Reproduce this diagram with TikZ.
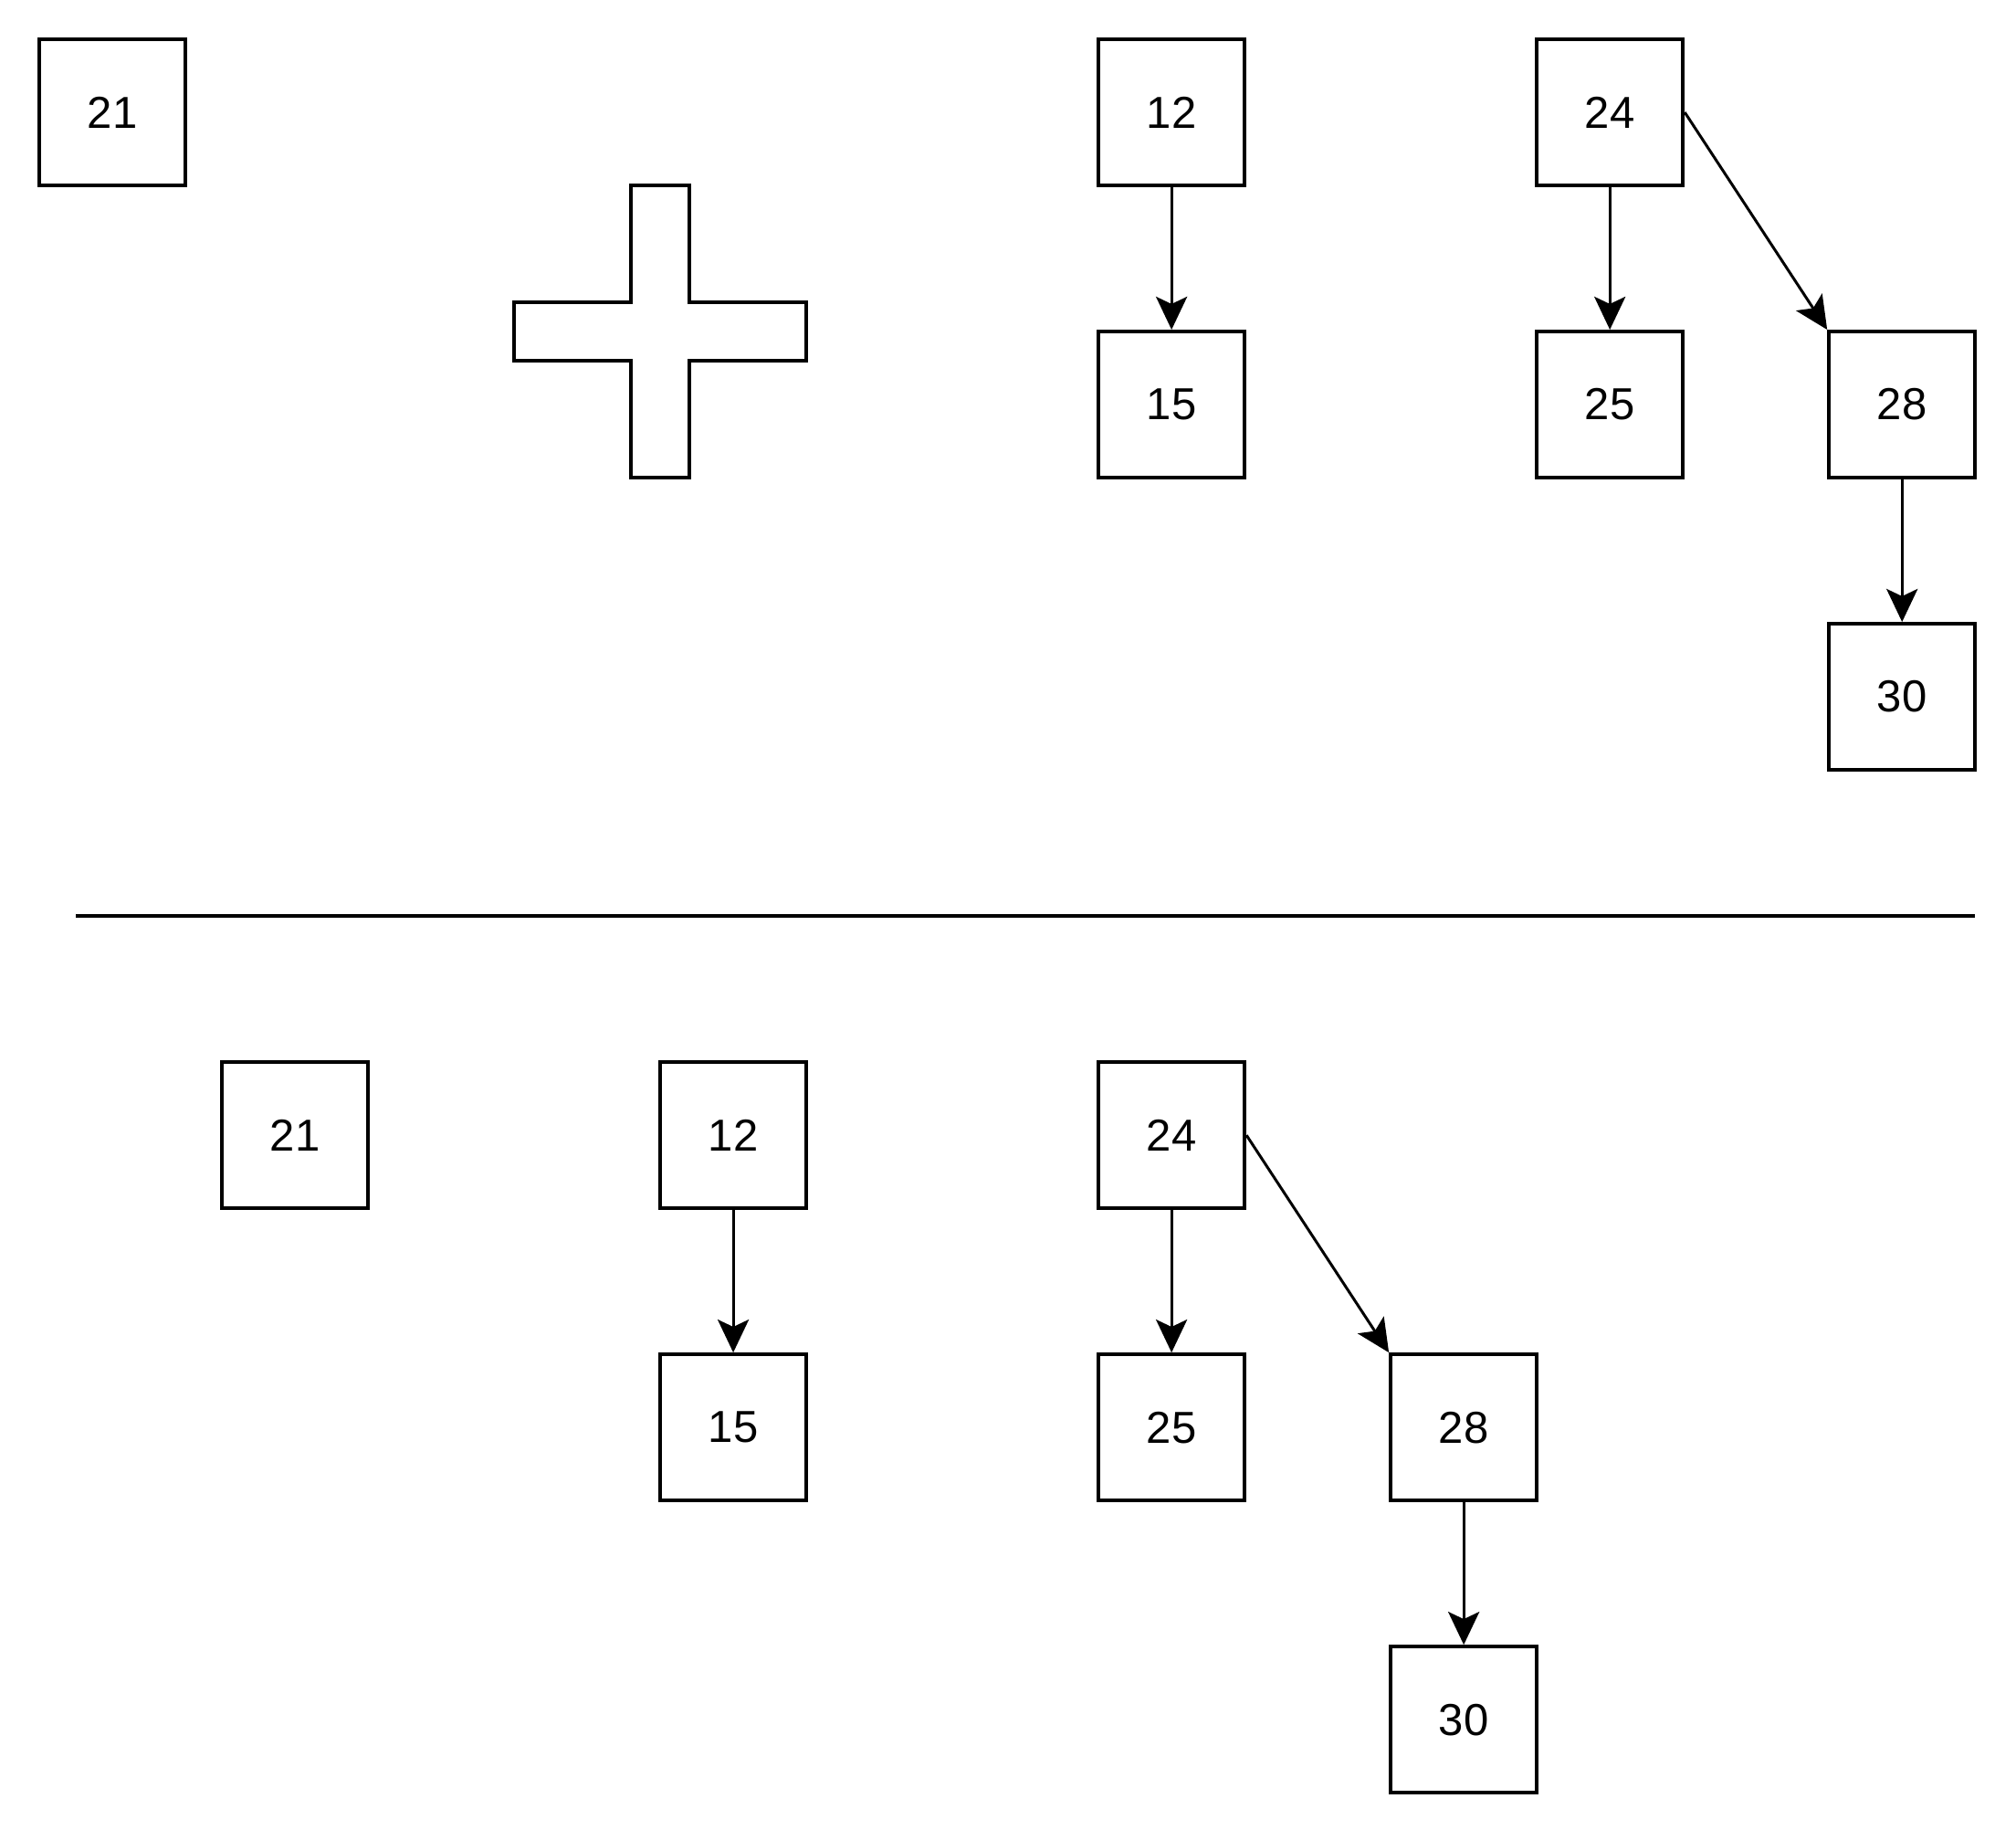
\documentclass[tikz,border=0pt]{standalone}
\usepackage{fontspec}
\setmainfont{Liberation Sans}
\usetikzlibrary{arrows.meta}
\begin{document}
\begin{tikzpicture}[x=0.01993cm,y=-0.01993cm,
  box/.style={draw,line width=1.15pt,minimum size=1.594cm,inner sep=0pt,font=\fontsize{13.9}{16}\selectfont},
  arr/.style={line width=0.85pt,-{Stealth[length=0.36cm,width=0.34cm,inset=0.08cm]}}]
\fill[white] (-1.5,-1.5) rectangle (1102.4,1000);
% before: single node, plus sign, two trees
\node[box] (a21) at (60,60) {21};
\draw[line width=1.15pt] (344,100) -- (376,100) -- (376,164) -- (440,164) -- (440,196) -- (376,196) -- (376,260) -- (344,260) -- (344,196) -- (280,196) -- (280,164) -- (344,164) -- cycle;
\node[box] (a12) at (640,60) {12};
\node[box] (a15) at (640,220) {15};
\node[box] (a24) at (880,60) {24};
\node[box] (a25) at (880,220) {25};
\node[box] (a28) at (1040,220) {28};
\node[box] (a30) at (1040,380) {30};
\draw[arr] (a12) -- (a15);
\draw[arr] (a24) -- (a25);
\draw[arr] (a24.east) -- (a28.north west);
\draw[arr] (a28) -- (a30);
% separator
\draw[line width=1.15pt] (40,500) -- (1080,500);
% after
\node[box] (b21) at (160,620) {21};
\node[box] (b12) at (400,620) {12};
\node[box] (b15) at (400,780) {15};
\node[box] (b24) at (640,620) {24};
\node[box] (b25) at (640,780) {25};
\node[box] (b28) at (800,780) {28};
\node[box] (b30) at (800,940) {30};
\draw[arr] (b12) -- (b15);
\draw[arr] (b24) -- (b25);
\draw[arr] (b24.east) -- (b28.north west);
\draw[arr] (b28) -- (b30);
\end{tikzpicture}
\end{document}
